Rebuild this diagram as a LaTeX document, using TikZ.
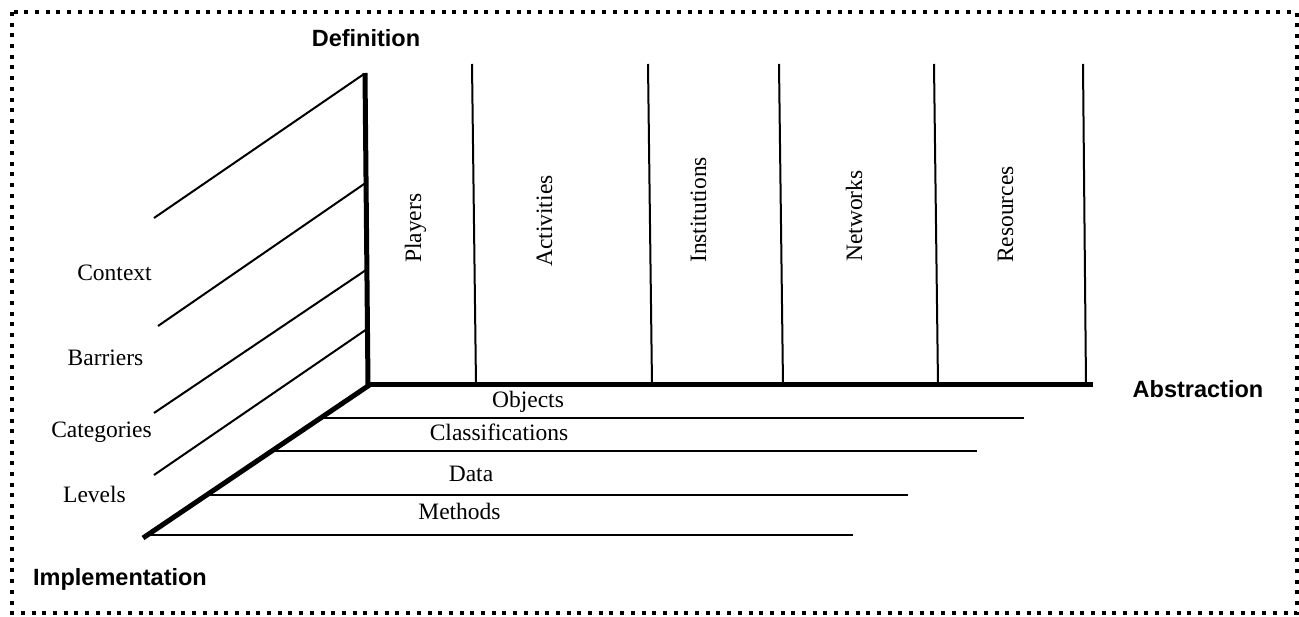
\documentclass[tikz,border=0pt]{standalone}
\usepackage{fontspec}
\setmainfont{Liberation Serif}
\newfontfamily\headfont{Liberation Sans}
\begin{document}
\begin{tikzpicture}[x=1pt,y=-1pt,
  thinline/.style={line width=2pt},
  axisline/.style={line width=5pt},
  lbl/.style={inner sep=0pt,anchor=base,font=\fontsize{23.5}{28}\selectfont},
  collbl/.style={inner sep=0pt,anchor=base west,rotate=90,font=\fontsize{23.5}{28}\selectfont},
  head/.style={inner sep=0pt,anchor=base,font=\headfont\bfseries\fontsize{23.5}{28}\selectfont},
  frame/.style={line width=4pt,dash pattern=on 4pt off 6.7pt}]
\useasboundingbox (0,0) rectangle (1299,617);
\draw[frame] (12,12) rectangle (1297,613);

% axes
\coordinate (T) at (365,73);
\coordinate (O) at (368,385);
\coordinate (R) at (1093,385);
\coordinate (F) at (143,538);

% left diagonals
\coordinate (d1a) at (364,74);   \coordinate (d1b) at (154,218);
\coordinate (d2a) at (367,182);  \coordinate (d2b) at (158,326);
\coordinate (d3a) at (366,270);  \coordinate (d3b) at (154,413);
\coordinate (d4a) at (367,329);  \coordinate (d4b) at (154,475);
\draw[thinline] (d1a) -- (d1b);
\draw[thinline] (d2a) -- (d2b);
\draw[thinline] (d3a) -- (d3b);
\draw[thinline] (d4a) -- (d4b);

% columns
\coordinate (c1t) at (472,64);  \coordinate (c1b) at (476,385);
\coordinate (c2t) at (648,64);  \coordinate (c2b) at (652,385);
\coordinate (c3t) at (779,64);  \coordinate (c3b) at (783,385);
\coordinate (c4t) at (934,64);  \coordinate (c4b) at (938,385);
\coordinate (c5t) at (1083,64); \coordinate (c5b) at (1086,385);
\draw[thinline] (c1t) -- (c1b);
\draw[thinline] (c2t) -- (c2b);
\draw[thinline] (c3t) -- (c3b);
\draw[thinline] (c4t) -- (c4b);
\draw[thinline] (c5t) -- (c5b);

% floor lines
\coordinate (f1a) at (320,418); \coordinate (f1b) at (1024,418);
\coordinate (f2a) at (272,451); \coordinate (f2b) at (977,451);
\coordinate (f3a) at (207,495); \coordinate (f3b) at (908,495);
\coordinate (f4a) at (147,535); \coordinate (f4b) at (853,535);
\draw[thinline] (f1a) -- (f1b);
\draw[thinline] (f2a) -- (f2b);
\draw[thinline] (f3a) -- (f3b);
\draw[thinline] (f4a) -- (f4b);

\draw[axisline] (T) -- (O);
\draw[axisline] ([xshift=-2pt]O) -- (R);
\draw[axisline] ([xshift=1.5pt]O) -- (F);

% labels
\node[head] (def) at (366,47) {Definition};
\node[head] (abs) at (1198,398) {Abstraction};
\node[head] (imp) at (120,585) {Implementation};

\node[lbl] (context) at (114.5,281) {Context};
\node[lbl] (barriers) at (105.5,366) {Barriers};
\node[lbl] (categories) at (101.5,438) {Categories};
\node[lbl] (levels) at (94.5,502) {Levels};

\node[collbl] (players) at (421,263) {Players};
\node[collbl] (activities) at (552,267) {Activities};
\node[collbl] (institutions) at (706,263) {Institutions};
\node[collbl] (networks) at (862,262) {Networks};
\node[collbl] (resources) at (1013,263) {Resources};

\node[lbl] (objects) at (528,408) {Objects};
\node[lbl] (classif) at (499,441) {Classifications};
\node[lbl] (data) at (471,482) {Data};
\node[lbl] (methods) at (459.5,519) {Methods};
\end{tikzpicture}
\end{document}
